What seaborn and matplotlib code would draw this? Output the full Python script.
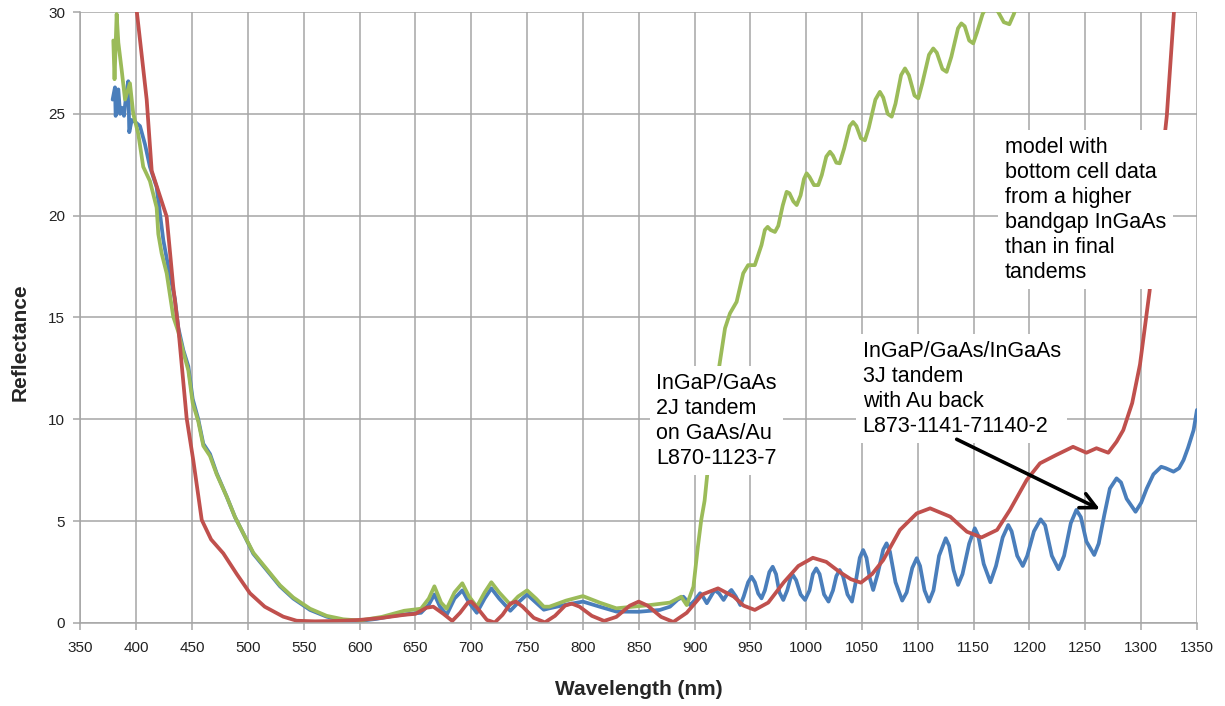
import matplotlib
matplotlib.use("Agg")
import matplotlib.pyplot as plt
import seaborn as sns
import pandas as pd

# Measured reflectance, InGaP/GaAs/InGaAs 3J tandem with Au back
wl_3j = [378.8, 380.9, 381.5, 383.9, 385.5, 387, 389, 391, 392.8, 393.7, 395.9, 399,
         403.3, 407.8, 412.2, 418.2, 421.2, 424.2, 428.6, 434.6, 437.6, 442.1, 446.6,
         450.5, 455.5, 460, 466, 472, 481, 488.4, 495.8, 504.8, 516.8, 528.7, 540.6,
         555.6, 570.5, 585.4, 600, 615, 630, 645, 655, 662, 667, 672, 678, 685, 692,
         698, 705, 712, 718, 725, 735, 742, 750, 758, 765, 770, 785, 800, 815, 830,
         850, 869, 878, 885, 890, 893, 896, 900, 905, 908, 911, 914, 918, 922, 926,
         929, 933, 937, 941, 944, 948, 951, 954, 957, 960, 963, 967, 970, 973, 976,
         979.5, 983, 986, 988, 991, 995, 999, 1003, 1006, 1009, 1012, 1016, 1020,
         1024, 1027, 1030, 1033, 1037, 1041, 1044, 1048, 1051, 1054, 1057, 1060,
         1064, 1069, 1072, 1075, 1080, 1086, 1090, 1095, 1099, 1102, 1106, 1110,
         1114, 1119, 1125, 1128, 1132, 1136, 1140, 1146, 1151, 1154, 1159, 1165,
         1170, 1176, 1181, 1184, 1189, 1194, 1198, 1204, 1210, 1214, 1220, 1226,
         1231, 1237, 1242, 1246, 1251, 1258, 1262, 1267, 1272, 1278, 1282, 1287,
         1295, 1300, 1305, 1311, 1318, 1322, 1329, 1334, 1338, 1342, 1347, 1350]
r_3j = [25.7, 26.3, 24.9, 26.2, 25.0, 25.3, 24.9, 26.0, 26.6, 24.1, 24.7, 24.6,
        24.4, 23.5, 22.4, 21.4, 20.1, 18.8, 17.5, 15.9, 14.5, 13.4, 12.6,
        11.0, 10.0, 8.8, 8.3, 7.35, 6.2, 5.2, 4.4, 3.4, 2.6, 1.8, 1.2,
        0.64, 0.31, 0.12, 0.1, 0.2, 0.35, 0.45, 0.5, 0.9, 1.4, 0.8, 0.4, 1.2, 1.6,
        1.0, 0.5, 1.2, 1.7, 1.2, 0.6, 1.0, 1.4, 1.0, 0.65, 0.72, 0.9, 1.05, 0.8, 0.56,
        0.55, 0.64, 0.8, 1.15, 1.29, 1.1, 0.88, 1.1, 1.46, 1.25, 0.97, 1.25, 1.62, 1.45, 1.13,
        1.4, 1.62, 1.3, 0.88, 1.3, 2.0, 2.27, 2.0, 1.45, 1.21, 1.6, 2.5, 2.76, 2.4, 1.5,
        1.13, 1.6, 2.2, 2.36, 2.1, 1.4, 1.13, 1.6, 2.4, 2.68, 2.4, 1.4, 1.05,
        1.6, 2.3, 2.6, 2.3, 1.4, 1.05, 1.9, 3.2, 3.58, 3.2, 2.2, 1.62,
        2.4, 3.6, 3.91, 3.5, 2.0, 1.1, 1.5, 2.7, 3.18, 2.8, 1.6, 1.05,
        1.6, 3.3, 4.16, 3.8, 2.6, 1.87, 2.4, 3.9, 4.65, 4.3, 2.9, 2.0,
        2.8, 4.2, 4.81, 4.5, 3.3, 2.8, 3.3, 4.5, 5.09, 4.8, 3.3, 2.64,
        3.3, 4.9, 5.55, 5.2, 4.0, 3.34, 3.9, 5.3, 6.6, 7.1, 6.9, 6.1,
        5.46, 5.9, 6.6, 7.3, 7.67, 7.6, 7.43, 7.6, 8.0, 8.6, 9.47, 10.46]

# Measured reflectance, InGaP/GaAs 2J tandem on GaAs/Au
wl_2j = [379.4, 380.5, 382.4, 383.9, 387, 389.9, 394.3, 397.3, 401.8, 406.2, 412.2,
         418.2, 419.7, 422.7, 427.2, 433.1, 437.6, 442.1, 446.6, 450.5, 455.5, 460,
         466, 472, 481, 488.4, 495.8, 504.8, 516.8, 528.7, 540.6, 555.6, 570.5, 585.4,
         600, 620, 640, 655, 662, 667, 673, 678, 685, 692, 698, 705, 712, 718, 725,
         735, 742, 750, 758, 765, 770, 785, 800, 815, 830, 845, 860, 878, 888, 893,
         899, 903, 906, 909, 915.5, 921, 927.3, 931.7, 937.7, 943.6, 948, 954, 960,
         963, 965.5, 968, 972, 975, 979, 982.5, 985, 988.5, 991.5, 995, 998, 1000.4,
         1003, 1007, 1010.8, 1014, 1018, 1021.3, 1024, 1027, 1030, 1034, 1039, 1042,
         1045, 1049, 1052.6, 1056, 1062, 1066, 1069, 1073, 1076.6, 1080, 1085, 1088.5,
         1092, 1097, 1100.4, 1104, 1110, 1113.8, 1117, 1122, 1125.8, 1130, 1136, 1139,
         1142, 1146, 1149.6, 1153, 1158, 1162, 1166, 1172, 1177, 1182, 1186, 1190]
r_2j = [28.6, 26.7, 29.9, 28.5, 27.1, 25.7, 26.5, 25.0, 24.0, 22.4, 21.7,
        20.4, 19.1, 18.15, 17.17, 15.04, 14.3, 13.3, 12.4, 10.8, 9.9, 8.7,
        8.2, 7.3, 6.2, 5.2, 4.4, 3.45, 2.65, 1.85, 1.25, 0.7, 0.35, 0.18,
        0.12, 0.3, 0.6, 0.7, 1.2, 1.8, 1.0, 0.7, 1.5, 1.95, 1.3, 0.8, 1.5, 2.0, 1.5,
        0.9, 1.3, 1.6, 1.2, 0.8, 0.8, 1.1, 1.32, 1.0, 0.72, 0.8, 0.88, 1.0, 1.29, 0.88,
        1.78, 3.75, 5.06, 6.0, 9.5, 12.2, 14.47, 15.2, 15.77, 17.17, 17.57, 17.57, 18.56,
        19.3, 19.45, 19.3, 19.2, 19.5, 20.5, 21.17, 21.1, 20.7, 20.52, 21.0, 21.8, 22.08,
        21.9, 21.5, 21.5, 22.0, 22.9, 23.14, 22.95, 22.6, 22.57, 23.3, 24.4, 24.6,
        24.4, 23.8, 23.7, 24.3, 25.7, 26.08, 25.8, 25.0, 24.86, 25.5, 26.9, 27.23,
        26.9, 25.9, 25.76, 26.5, 27.9, 28.21, 28.0, 27.2, 27.06, 27.8, 29.2, 29.44,
        29.3, 28.6, 28.46, 29.0, 29.9, 30.3, 30.4, 30.0, 29.5, 29.4, 29.9, 30.6]

# Model, bottom cell data from a higher bandgap InGaAs
wl_model = [399, 400.5, 409.3, 413.8, 427.2, 433.1, 437.6, 445.1, 451, 458.6, 467,
            477.9, 490, 501.8, 515, 531.6, 543.6, 560, 580, 600, 620, 640, 650, 660,
            666, 675, 683, 690, 697, 700, 706, 714, 721, 728, 735, 740, 746, 756, 766,
            775, 784, 790, 797, 808, 819, 830, 842, 850, 858, 870, 881, 893, 907, 921,
            935, 944, 954, 966, 980, 993, 1006, 1018, 1030, 1040, 1049, 1059, 1069,
            1084, 1099, 1111, 1129, 1144, 1157, 1171, 1182.5, 1197.5, 1209.4, 1224,
            1239, 1251, 1260, 1270.6, 1278, 1284, 1292, 1299, 1307.6, 1315, 1323,
            1329.4, 1331]
r_model = [31.0, 30.0, 25.7, 22.2, 19.95, 16.5, 14.5, 10.05, 8.0, 5.06, 4.1,
           3.42, 2.4, 1.46, 0.8, 0.31, 0.11, 0.08, 0.1, 0.15, 0.25, 0.4, 0.45, 0.75,
           0.8, 0.45, 0.1, 0.5, 1.0, 1.05, 0.7, 0.15, 0.02, 0.4, 0.95, 1.05, 0.8, 0.25, 0.03,
           0.35, 0.85, 0.95, 0.8, 0.35, 0.1, 0.3, 0.85, 1.05, 0.85, 0.3, 0.05, 0.5, 1.4, 1.7,
           1.3, 0.85, 0.64, 1.0, 2.0, 2.8, 3.2, 3.0, 2.5, 2.15, 1.98, 2.4, 3.09,
           4.57, 5.38, 5.63, 5.22, 4.48, 4.2, 4.57, 5.55, 7.02, 7.84, 8.25,
           8.65, 8.36, 8.58, 8.36, 8.9, 9.47, 10.8, 12.7, 16.3, 20.8, 24.9,
           30.0, 31.0]

x_ticks = list(range(350, 1351, 50))
y_ticks = list(range(0, 31, 5))

sns.set_theme(style="white")
plt.rcParams["font.family"] = ["Liberation Sans", "DejaVu Sans"]

fig = plt.figure(figsize=(12.25, 7.06), dpi=100)
ax = fig.add_axes([0.0657, 0.1176, 0.9114, 0.8654])

grid_col = "#a6a6a6"
ax.set_xlim(350, 1350)
ax.set_ylim(0, 30)
ax.set_xticks(x_ticks)
ax.set_yticks(y_ticks)
ax.grid(True, color=grid_col, linewidth=1.1)
ax.set_axisbelow(True)
for s in ["top", "right"]:
    ax.spines[s].set_visible(False)
for s in ["left", "bottom"]:
    ax.spines[s].set_color(grid_col)
    ax.spines[s].set_linewidth(1.1)
ax.tick_params(axis="both", which="major", length=5, width=1.1, color=grid_col,
               labelsize=11, labelcolor="#222222", direction="out", bottom=True, left=True)
ax.tick_params(axis="x", pad=8)
ax.tick_params(axis="y", pad=6)

series = [
    (wl_3j, r_3j, "#4a7ebb"),
    (wl_2j, r_2j, "#9bbb59"),
    (wl_model, r_model, "#c0504d"),
]
for wl, rr, col in series:
    df = pd.DataFrame({"wl": wl, "R": rr})
    sns.lineplot(data=df, x="wl", y="R", ax=ax, color=col, linewidth=2.7,
                 sort=False, estimator=None, legend=False)

ax.set_xlabel("Wavelength (nm)", fontsize=15, fontweight="bold", labelpad=18)
ax.set_ylabel("Reflectance", fontsize=15, fontweight="bold", labelpad=10)
ax.yaxis.set_label_coords(-0.046, 0.46)

box = dict(boxstyle="square,pad=0.3", facecolor="white", edgecolor="none")
txt = dict(fontsize=15.5, color="black", ha="left", va="top", bbox=box, linespacing=1.25)
ax.text(865.5, 12.28, "InGaP/GaAs\n2J tandem\non GaAs/Au\nL870-1123-7", **txt)
ax.text(1050.6, 13.86, "InGaP/GaAs/InGaAs\n3J tandem\nwith Au back\nL873-1141-71140-2", **txt)
ax.text(1178, 23.87, "model with\nbottom cell data\nfrom a higher\nbandgap InGaAs\nthan in final\ntandems", **txt)

ax.annotate("", xy=(1263.1, 5.58), xytext=(1134.8, 9.02),
            arrowprops=dict(arrowstyle="->", lw=2.6, color="black", mutation_scale=28,
                            shrinkA=0, shrinkB=0))

fig.savefig("out.png", dpi=100)
